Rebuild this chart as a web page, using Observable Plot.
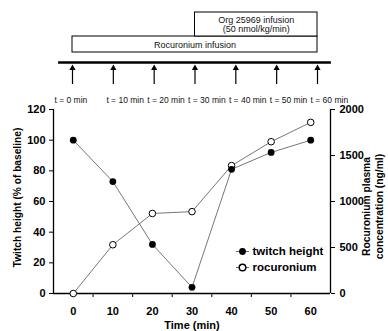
<!DOCTYPE html>
<html><head><meta charset="utf-8">
<script src="https://cdn.jsdelivr.net/npm/d3@7"></script>
<script src="https://cdn.jsdelivr.net/npm/@observablehq/plot@0.6"></script>
<style>html,body{margin:0;padding:0;background:#fff;overflow:hidden;} svg{display:block}</style>
</head><body><div id="chart"></div>
<script>
// ---- data ----
const times = [0, 10, 20, 30, 40, 50, 60];
const twitchHeight = [100, 73, 32, 4, 81, 92, 100];
const rocuronium = [0, 530, 870, 890, 1390, 1650, 1860];
const sampleLabels = ["t = 0 min", "t = 10 min", "t = 20 min", "t = 30 min", "t = 40 min", "t = 50 min", "t = 60 min"];
const infusionNames = ["Rocuronium infusion", "Org 25969 infusion\n(50 nmol/kg/min)"];
const infusionStart = [0, 30];
const infusionEnd = [60, 60];
const leftTicks = [0, 20, 40, 60, 80, 100, 120];
const rightTicks = [0, 500, 1000, 1500, 2000];
const legendNames = ["twitch height", "rocuronium"];

// ---- layout ----
const W = 388;
const FONT = "'Liberation Sans', Arial, Helvetica, sans-serif";
const boxLevels = [[1.0, 2.6], [2.6, 5.0]];
const infusions = infusionNames.map((name, i) => ({name, start: infusionStart[i], end: infusionEnd[i], lo: boxLevels[i][0], hi: boxLevels[i][1]}));

const topPlot = Plot.plot({
  width: W, height: 105,
  marginLeft: 72, marginRight: 71, marginTop: 0, marginBottom: 0,
  x: {domain: [0, 60], axis: null},
  y: {domain: [-4.3, 6.2], axis: null},
  style: {fontFamily: FONT, fontSize: "8.5px", color: "#000", background: "#fff"},
  marks: [
    Plot.rect(infusions, {x1: "start", x2: "end", y1: "lo", y2: "hi", fill: "white", stroke: "black", strokeWidth: 1}),
    Plot.text(infusions, {x: d => (d.start + d.end) / 2, y: d => (d.lo + d.hi) / 2, text: "name", fontSize: 9, lineHeight: 1.05, fill: "#111", textAnchor: "middle", lineAnchor: "middle"}),
    Plot.ruleY([0], {x1: -3.4, x2: 63.4, stroke: "black", strokeWidth: 2.3}),
    Plot.ruleX(times, {x: d => d, y1: -2.2, y2: -0.6, stroke: "black", strokeWidth: 1.2}),
    Plot.dot(times, {x: d => d, y: -0.56, symbol: "triangle", r: 2.3, fill: "black", stroke: "none"}),
    Plot.text(times, {x: d => d + (d === 0 ? -0.4 : 2.9), y: -3.8, text: (d, i) => sampleLabels[i], fill: "#111"})
  ]
});

const k = 120 / 2000;
const rows = times.map((t, i) => ({t, twitch: twitchHeight[i], roc: rocuronium[i] * k}));
const lineSymbol = {draw(ctx) { ctx.moveTo(-6.5, 0); ctx.lineTo(6.5, 0); }};
const mid = {textAnchor: "middle", lineAnchor: "middle"};

const chart = Plot.plot({
  width: W, height: 226,
  marginLeft: 53, marginRight: 58, marginTop: 4, marginBottom: 38,
  x: {domain: [-5, 65]},
  y: {domain: [0, 120]},
  style: {fontFamily: FONT, fontSize: "11px", fontWeight: "bold", color: "#000", background: "#fff"},
  marks: [
    Plot.axisY({anchor: "left", ticks: leftTicks, tickSize: 4, tickPadding: 4, label: null}),
    Plot.axisY({anchor: "right", ticks: rightTicks.map(v => v * k), tickFormat: d => String(Math.round(d / k)), tickSize: 4, tickPadding: 5, label: null}),
    Plot.axisX({ticks: [5, 15, 25, 35, 45, 55], tickSize: 4, tickFormat: () => "", label: null}),
    Plot.axisX({ticks: times, tickSize: 0, tickPadding: 14, label: null}),
    Plot.ruleX([-5, 65], {y1: 0, y2: 120, stroke: "black", strokeWidth: 1.3}),
    Plot.ruleY([0], {x1: -5, x2: 65, stroke: "black", strokeWidth: 1.3}),
    Plot.line(rows, {x: "t", y: "roc", stroke: "#666", strokeWidth: 0.9}),
    Plot.line(rows, {x: "t", y: "twitch", stroke: "#666", strokeWidth: 0.9}),
    Plot.dot(rows, {x: "t", y: "roc", r: 3.3, fill: "white", stroke: "black", strokeWidth: 1}),
    Plot.dot(rows, {x: "t", y: "twitch", r: 3.4, fill: "black", stroke: "none"}),
    Plot.text(["Twitch height (% of baseline)"], {frameAnchor: "left", rotate: -90, dx: -36, dy: -4, fontSize: 10.2, ...mid}),
    Plot.text(["Rocuronium plasma"], {frameAnchor: "right", rotate: -90, dx: 36, dy: 5, fontSize: 10.3, ...mid}),
    Plot.text(["concentration (ng/ml)"], {frameAnchor: "right", rotate: -90, dx: 49, dy: 5, fontSize: 10.3, ...mid}),
    Plot.text(["Time (min)"], {frameAnchor: "bottom", dy: 32, fontSize: 11, ...mid}),
    // legend
    Plot.dot([legendNames[0]], {frameAnchor: "bottom-right", dx: -88, dy: -42, symbol: lineSymbol, fill: "none", stroke: "#555", strokeWidth: 0.9}),
    Plot.dot([legendNames[1]], {frameAnchor: "bottom-right", dx: -88, dy: -26, symbol: lineSymbol, fill: "none", stroke: "#555", strokeWidth: 0.9}),
    Plot.dot([legendNames[0]], {frameAnchor: "bottom-right", dx: -88, dy: -42, r: 3.4, fill: "black", stroke: "none"}),
    Plot.dot([legendNames[1]], {frameAnchor: "bottom-right", dx: -88, dy: -26, r: 3.3, fill: "white", stroke: "black"}),
    Plot.text([legendNames[0]], {frameAnchor: "bottom-right", dx: -78, dy: -42, textAnchor: "start", lineAnchor: "middle", fontSize: 11.5}),
    Plot.text([legendNames[1]], {frameAnchor: "bottom-right", dx: -78, dy: -26, textAnchor: "start", lineAnchor: "middle", fontSize: 11.5})
  ]
});

const root = document.getElementById("chart");
root.appendChild(topPlot);
root.appendChild(chart);
</script>
</body></html>
